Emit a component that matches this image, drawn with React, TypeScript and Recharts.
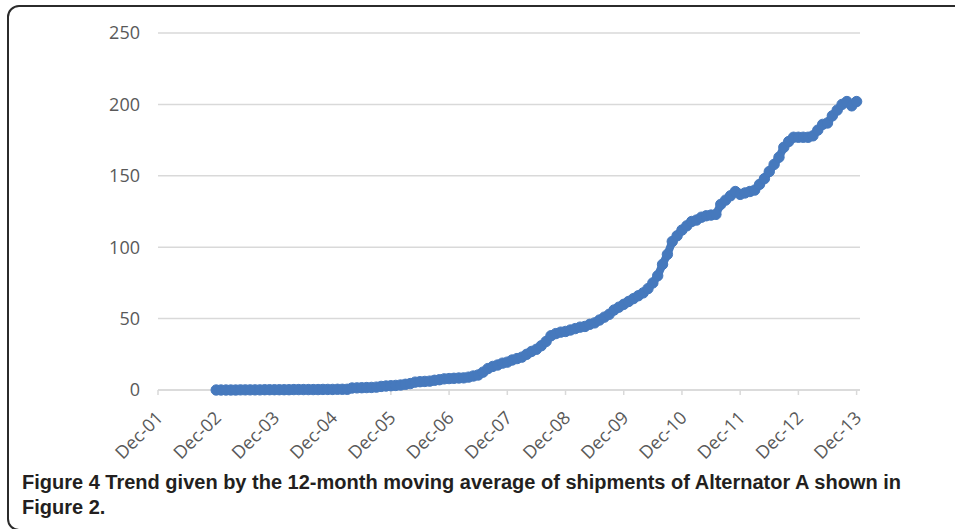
import { CartesianGrid, Line, LineChart, XAxis, YAxis } from 'recharts';

// months counted from Dec-01 (= 0), one tick per December
const TICK_MONTHS = [0, 12, 24, 36, 48, 60, 72, 84, 96, 108, 120, 132, 144];
const TICK_LABELS = [
  'Dec-01', 'Dec-02', 'Dec-03', 'Dec-04', 'Dec-05', 'Dec-06', 'Dec-07',
  'Dec-08', 'Dec-09', 'Dec-10', 'Dec-11', 'Dec-12', 'Dec-13',
];
const Y_TICKS = [0, 50, 100, 150, 200, 250];

// series starts at Dec-02
const FIRST_MONTH = 12;
const MOVING_AVG = [
  0, 0, 0, 0, 0, 0.1, 0.1, 0.1, 0.1, 0.1, 0.2, 0.2,
  0.2, 0.2, 0.2, 0.2, 0.3, 0.3, 0.3, 0.3, 0.3, 0.3, 0.4, 0.4,
  0.4, 0.5, 0.5, 0.5, 1.4, 1.5, 1.6, 1.7, 1.8, 2.0, 2.5, 2.8,
  3.0, 3.2, 3.5, 4.0, 4.5, 5.5, 5.8, 6.0, 6.2, 6.8, 7.2, 7.8,
  8.0, 8.2, 8.4, 8.5, 9.0, 9.8, 10.5, 12.5, 15, 16.5, 17.5, 18.8,
  19.5, 21, 22, 23, 25, 27, 28.5, 31, 34, 38, 39.5, 40.5,
  41, 42, 43, 44, 44.5, 46, 47, 49, 51, 53, 56, 58,
  60, 62, 64, 66, 68, 71, 75, 80, 88, 95, 104, 108,
  112, 115, 118, 119, 121, 122, 122.5, 123, 130, 133, 136, 139,
  137, 138, 139, 140, 144, 148, 153, 158, 163, 170, 174, 177,
  177, 177, 177, 178, 182, 186, 187, 192, 196, 200, 202, 199,
  202,
];

const data = MOVING_AVG.map((value, i) => ({ month: FIRST_MONTH + i, value }));

const BLUE = '#4679bd';
const AXIS_GRAY = '#d9d9d9';
const LABEL_GRAY = '#595959';

function DateTick(props: any) {
  const { x, y, payload } = props;
  const label = TICK_LABELS[TICK_MONTHS.indexOf(payload.value)];
  const ax = x + 6;
  const ay = y + 22;
  return (
    <text
      x={ax}
      y={ay}
      textAnchor="end"
      fill={LABEL_GRAY}
      fontSize={18}
      fontFamily="'Open Sans', sans-serif"
      transform={`rotate(-45, ${ax}, ${ay})`}
    >
      {label}
    </text>
  );
}

export default function App() {
  return (
    <div style={{ position: 'relative', width: 955, height: 529, overflow: 'hidden', background: '#fff' }}>
      <style>{'body{margin:0;overflow:hidden;}'}</style>
      <div
        style={{
          position: 'absolute',
          left: 7,
          top: 5,
          width: 1000,
          height: 522,
          border: '2px solid #2b2b2b',
          borderRadius: 12,
        }}
      />
      <div style={{ position: 'absolute', left: 0, top: 0 }}>
        <LineChart width={955} height={470} data={data} margin={{ top: 33, right: 95, bottom: 10, left: 0 }}>
          <CartesianGrid vertical={false} stroke={AXIS_GRAY} strokeWidth={1.5} />
          <XAxis
            dataKey="month"
            type="number"
            domain={[0, 144.7]}
            ticks={TICK_MONTHS}
            interval={0}
            height={70}
            tickSize={5}
            tickMargin={2}
            axisLine={{ stroke: AXIS_GRAY, strokeWidth: 1.5 }}
            tickLine={{ stroke: AXIS_GRAY, strokeWidth: 1.5 }}
            tick={<DateTick />}
          />
          <YAxis
            type="number"
            domain={[0, 250]}
            ticks={Y_TICKS}
            width={158}
            axisLine={false}
            tickLine={false}
            tickSize={6}
            tickMargin={12}
            tick={{ fill: LABEL_GRAY, fontSize: 18, fontFamily: "'Open Sans', sans-serif" }}
          />
          <Line
            type="linear"
            dataKey="value"
            stroke={BLUE}
            strokeWidth={8}
            dot={{ r: 5.2, fill: BLUE, stroke: BLUE, strokeWidth: 1 }}
            isAnimationActive={false}
          />
        </LineChart>
      </div>
      <div
        style={{
          position: 'absolute',
          left: 22,
          top: 470,
          fontFamily: "'Liberation Sans', Arial, sans-serif",
          fontWeight: 700,
          fontSize: 20,
          lineHeight: '25px',
          color: '#231f20',
          whiteSpace: 'nowrap',
        }}
      >
        Figure 4 Trend given by the 12-month moving average of shipments of Alternator A shown in
        <br />
        Figure 2.
      </div>
    </div>
  );
}
